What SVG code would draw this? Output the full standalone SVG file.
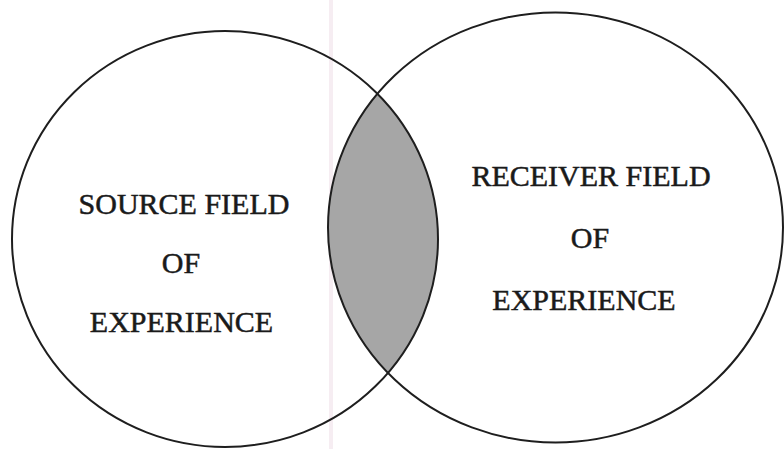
<svg xmlns="http://www.w3.org/2000/svg" width="784" height="449" viewBox="0 0 784 449">
  <style>
    .ring { fill: none; stroke: #1e1e1e; stroke-width: 2; }
    .lbl { font-family: "Liberation Serif", "Times New Roman", serif; font-size: 30px; fill: #1a1a1a; stroke: #1a1a1a; stroke-width: 0.5; text-anchor: middle; }
  </style>
  <defs>
    <clipPath id="clipLeft">
      <ellipse cx="225" cy="239" rx="213" ry="208"/>
    </clipPath>
  </defs>
  <rect x="0" y="0" width="784" height="449" fill="#ffffff"/>
  <rect x="329" y="0" width="4" height="449" fill="#f6edf2"/>
  <g id="overlap">
    <ellipse cx="555.5" cy="227.5" rx="227.5" ry="215" fill="#a6a6a6" clip-path="url(#clipLeft)"/>
  </g>
  <g id="source">
    <ellipse class="ring" cx="225" cy="239" rx="213" ry="208"/>
    <text class="lbl" x="184" y="214">SOURCE FIELD</text>
    <text class="lbl" x="181" y="273">OF</text>
    <text class="lbl" x="181.5" y="332">EXPERIENCE</text>
  </g>
  <g id="receiver">
    <ellipse class="ring" cx="555.5" cy="227.5" rx="227.5" ry="215"/>
    <text class="lbl" x="591" y="186">RECEIVER FIELD</text>
    <text class="lbl" x="590" y="248">OF</text>
    <text class="lbl" x="584" y="310">EXPERIENCE</text>
  </g>
  <g id="connectors"/>
</svg>
